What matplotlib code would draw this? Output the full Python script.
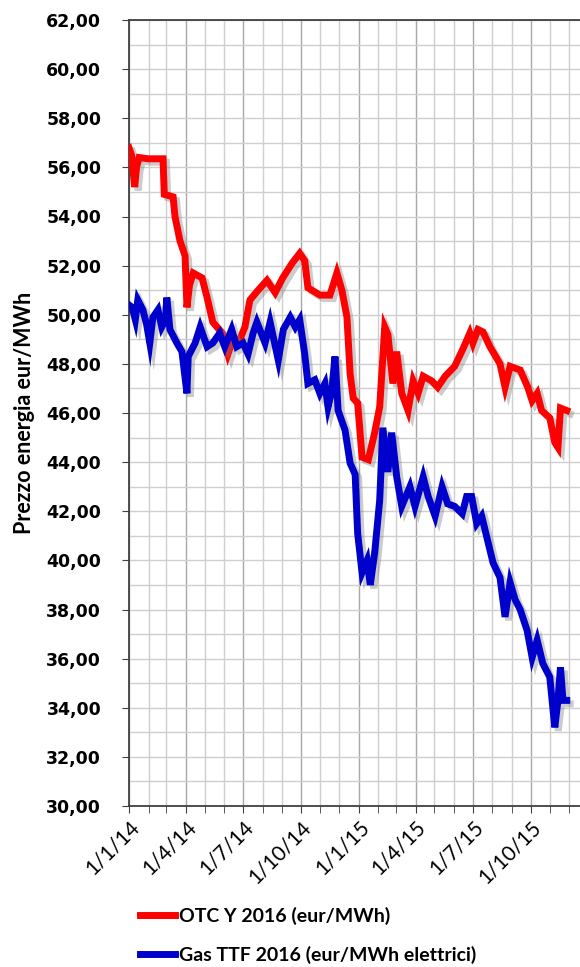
import pandas as pd
import matplotlib
matplotlib.use('Agg')
import matplotlib.pyplot as plt
import matplotlib.dates as mdates
import matplotlib.patheffects as pe
from matplotlib.lines import Line2D
from matplotlib.ticker import MultipleLocator, FuncFormatter

# OTC Y 2016 (eur/MWh)
otc_dates = ['2014-01-01', '2014-01-05', '2014-01-10', '2014-01-13', '2014-01-17', '2014-01-31',
             '2014-02-24', '2014-02-26', '2014-03-12', '2014-03-15', '2014-03-23', '2014-03-31',
             '2014-04-03', '2014-04-07', '2014-04-13', '2014-04-27', '2014-05-05', '2014-05-14',
             '2014-05-29', '2014-06-07', '2014-06-15', '2014-06-26', '2014-07-04', '2014-07-12',
             '2014-07-25', '2014-08-08', '2014-08-21', '2014-09-02', '2014-09-17', '2014-09-29',
             '2014-10-07', '2014-10-12', '2014-10-31', '2014-11-16', '2014-11-27', '2014-12-05',
             '2014-12-13', '2014-12-18', '2014-12-23', '2014-12-30', '2015-01-06', '2015-01-16',
             '2015-01-26', '2015-02-03', '2015-02-11', '2015-02-16', '2015-02-24', '2015-03-02',
             '2015-03-10', '2015-03-20', '2015-03-28', '2015-04-05', '2015-04-13', '2015-04-27',
             '2015-05-06', '2015-05-18', '2015-06-02', '2015-06-15', '2015-06-26', '2015-07-01',
             '2015-07-09', '2015-07-17', '2015-07-28', '2015-08-13', '2015-08-21', '2015-08-29',
             '2015-09-14', '2015-09-26', '2015-10-03', '2015-10-11', '2015-10-18', '2015-10-31',
             '2015-11-08', '2015-11-13', '2015-11-17', '2015-11-27']
otc_vals = [56.8, 56.5, 55.2, 56.0, 56.4, 56.35,
            56.35, 54.9, 54.8, 54.0, 53.0, 52.4,
            50.3, 51.2, 51.7, 51.5, 50.7, 49.7,
            49.25, 48.4, 49.0, 49.0, 49.5, 50.6,
            51.0, 51.4, 50.9, 51.5, 52.1, 52.5,
            52.2, 51.1, 50.8, 50.8, 51.7, 51.0,
            49.9, 47.6, 46.6, 46.4, 44.2, 44.1,
            45.2, 46.25, 49.5, 49.2, 47.2, 48.5,
            46.8, 46.1, 47.3, 46.8, 47.5, 47.3,
            47.05, 47.5, 47.9, 48.6, 49.25, 48.85,
            49.4, 49.3, 48.7, 48.0, 47.05, 47.9,
            47.75, 47.05, 46.5, 46.8, 46.1, 45.8,
            44.8, 44.6, 46.2, 46.1]

# Gas TTF 2016 (eur/MWh elettrici)
ttf_dates = ['2014-01-01', '2014-01-06', '2014-01-11', '2014-01-15', '2014-01-23', '2014-01-29',
             '2014-02-03', '2014-02-08', '2014-02-16', '2014-02-22', '2014-02-28', '2014-03-02',
             '2014-03-07', '2014-03-18', '2014-03-26', '2014-04-03', '2014-04-05', '2014-04-16',
             '2014-04-24', '2014-05-05', '2014-05-14', '2014-05-25', '2014-06-02', '2014-06-13',
             '2014-06-21', '2014-07-01', '2014-07-09', '2014-07-17', '2014-07-23', '2014-08-05',
             '2014-08-13', '2014-08-26', '2014-09-03', '2014-09-14', '2014-09-22', '2014-09-29',
             '2014-10-07', '2014-10-12', '2014-10-23', '2014-10-31', '2014-11-08', '2014-11-13',
             '2014-11-19', '2014-11-24', '2014-11-29', '2014-12-10', '2014-12-18', '2014-12-26',
             '2014-12-30', '2015-01-06', '2015-01-14', '2015-01-19', '2015-01-26', '2015-02-03',
             '2015-02-08', '2015-02-16', '2015-02-22', '2015-03-02', '2015-03-10', '2015-03-23',
             '2015-03-31', '2015-04-13', '2015-04-21', '2015-05-02', '2015-05-13', '2015-05-22',
             '2015-06-02', '2015-06-14', '2015-06-21', '2015-06-29', '2015-07-07', '2015-07-15',
             '2015-07-23', '2015-08-02', '2015-08-13', '2015-08-21', '2015-08-29', '2015-09-06',
             '2015-09-14', '2015-09-25', '2015-10-03', '2015-10-11', '2015-10-20', '2015-10-31',
             '2015-11-08', '2015-11-13', '2015-11-17', '2015-11-21', '2015-11-27']
ttf_vals = [50.4, 50.3, 49.8, 50.6, 50.2, 49.6,
            48.85, 49.9, 50.2, 49.5, 49.8, 50.7,
            49.4, 48.85, 48.5, 46.8, 48.3, 48.85,
            49.5, 48.7, 48.85, 49.25, 48.7, 49.4,
            48.7, 48.85, 48.4, 49.25, 49.7, 48.85,
            49.7, 48.15, 49.4, 49.9, 49.5, 49.8,
            48.4, 47.2, 47.35, 46.8, 47.2, 46.25,
            46.9, 48.3, 46.1, 45.3, 43.96, 43.5,
            41.1, 39.5, 40.0, 39.0, 40.3, 42.45,
            45.4, 43.6, 45.2, 43.4, 42.2, 43.0,
            42.2, 43.4, 42.6, 41.8, 43.0, 42.3,
            42.2, 41.9, 42.6, 42.6, 41.5, 41.8,
            40.95, 39.9, 39.3, 37.7, 39.1, 38.4,
            38.0, 37.15, 36.05, 36.75, 35.8, 35.25,
            33.2, 34.3, 35.65, 34.3, 34.3]

labels = ['OTC Y 2016 (eur/MWh)', 'Gas TTF 2016 (eur/MWh elettrici)']
colors = ['#ff0000', '#0000cc']

fig = plt.figure(figsize=(5.8, 9.67), dpi=100)
ax = fig.add_axes([129/580, 1-806/967, 1-129/580, (806-20)/967])

shadow = [pe.SimpleLineShadow(offset=(2.5, -2.5), shadow_color='#808080', alpha=0.4), pe.Normal()]
ax.plot(pd.to_datetime(otc_dates), otc_vals, color=colors[0], lw=5, zorder=3,
        solid_joinstyle='miter', path_effects=shadow)
ax.plot(pd.to_datetime(ttf_dates), ttf_vals, color=colors[1], lw=5, zorder=3,
        solid_joinstyle='miter', path_effects=shadow)

ax.set_ylim(30, 62)
ax.set_xlim(pd.Timestamp('2014-01-01'), pd.Timestamp('2015-12-18'))
ax.yaxis.set_major_locator(MultipleLocator(2))
ax.yaxis.set_minor_locator(MultipleLocator(1))
ax.yaxis.set_major_formatter(FuncFormatter(lambda v, p: ('%.2f' % v).replace('.', ',')))
ax.xaxis.set_major_locator(mdates.MonthLocator(bymonth=[1, 4, 7, 10]))
ax.xaxis.set_minor_locator(mdates.MonthLocator())
ax.xaxis.set_major_formatter(FuncFormatter(
    lambda v, p: '%d/%d/%s' % (mdates.num2date(v).day, mdates.num2date(v).month,
                               mdates.num2date(v).strftime('%y'))))

ax.grid(which='minor', color='#cfcfcf', lw=1)
ax.grid(which='major', axis='y', color='#cfcfcf', lw=1)
ax.grid(which='major', axis='x', color='#a8a8a8', lw=1)
ax.set_axisbelow(True)

for s in ['top', 'bottom', 'left']:
    ax.spines[s].set_color('#404040')
    ax.spines[s].set_linewidth(1.3)
ax.spines['right'].set_visible(False)

ax.tick_params(axis='y', which='major', length=5, color='#404040', pad=15)
ax.tick_params(axis='y', which='minor', length=0)
ax.tick_params(axis='x', which='both', length=5, color='#404040', pad=3)
for t in ax.get_yticklabels():
    t.set_fontsize(12.5)
    t.set_fontweight('bold')
    t.set_family('DejaVu Sans')
for t in ax.get_xticklabels():
    t.set_fontsize(15)
    t.set_family('Lato')
    t.set_rotation(45)
    t.set_ha('right')
    t.set_rotation_mode('anchor')

ax.set_ylabel('Prezzo energia eur/MWh', fontsize=15.5, fontweight='bold', family='Lato')
ax.yaxis.set_label_coords(-0.208, 0.5)

handles = [Line2D([], [], color=c, lw=5) for c in colors]
fig.legend(handles, labels, loc='upper left', bbox_to_anchor=(122/580, 1-889/967),
           frameon=False, handlelength=1.85, handletextpad=0.2, labelspacing=1.1,
           prop={'family': 'Lato', 'weight': 'bold', 'size': 14})

fig.savefig('out.png', dpi=100)
